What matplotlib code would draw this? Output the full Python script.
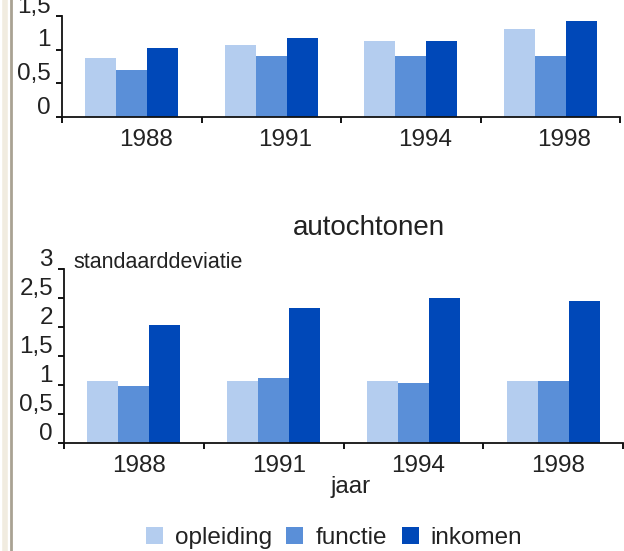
import matplotlib
matplotlib.use("Agg")
import matplotlib.pyplot as plt
import matplotlib.transforms as mtransforms
from matplotlib.lines import Line2D
from matplotlib.patches import Patch
import numpy as np

plt.rcParams['font.family'] = ['Liberation Sans', 'DejaVu Sans']

jaren = ['1988', '1991', '1994', '1998']
reeksen = ['opleiding', 'functie', 'inkomen']
kleuren = ['#b4cdef', '#5a8fd8', '#0048b8']

# bovenste paneel (bovenkant valt buiten beeld)
boven_opleiding = [0.88, 1.07, 1.13, 1.30]
boven_functie = [0.70, 0.90, 0.91, 0.90]
boven_inkomen = [1.03, 1.18, 1.13, 1.43]
boven_yticks = [0, 0.5, 1, 1.5]
boven_ylabels = ['0', '0,5', '1', '1,5']

# autochtonen
auto_opleiding = [1.07, 1.07, 1.07, 1.07]
auto_functie = [0.98, 1.12, 1.03, 1.07]
auto_inkomen = [2.03, 2.33, 2.50, 2.45]
auto_yticks = [0, 0.5, 1, 1.5, 2, 2.5, 3]
auto_ylabels = ['0', '0,5', '1', '1,5', '2', '2,5', '3']

W, H = 624, 551
fig = plt.figure(figsize=(W / 100, H / 100), dpi=100)
tekst = '#222222'
fs = 17.5


def px_axes(left, top, right, bottom):
    return fig.add_axes([left / W, 1 - bottom / H, (right - left) / W, (bottom - top) / H])


def teken(ax, series, yticks, ylabels, ymax, xshift):
    x = np.arange(len(jaren))
    w = 0.222
    for i, (vals, kleur) in enumerate(zip(series, kleuren)):
        ax.bar(x + (i - 1) * w, vals, w, color=kleur, linewidth=0)
    ax.set_xlim(-0.5, len(jaren) - 0.5)
    ax.set_ylim(0, ymax)
    for s in ['top', 'right']:
        ax.spines[s].set_visible(False)
    for s in ['left', 'bottom']:
        ax.spines[s].set_linewidth(1.3)
        ax.spines[s].set_color('#111111')
    ax.set_yticks(yticks)
    ax.set_yticklabels(ylabels)
    ax.set_xticks(x)
    ax.set_xticklabels(jaren)
    ax.set_xticks(np.arange(-0.5, len(jaren)), minor=True)
    ax.tick_params(axis='x', which='major', length=0, pad=9, labelsize=fs, labelcolor=tekst)
    ax.tick_params(axis='x', which='minor', length=4, width=1.3, direction='out')
    ax.tick_params(axis='y', length=4, width=1.3, direction='out', pad=4, labelsize=fs, labelcolor=tekst)
    up = mtransforms.ScaledTranslation(0, 12 / 100, fig.dpi_scale_trans)
    for lab in ax.get_yticklabels():
        lab.set_transform(lab.get_transform() + up)
    right = mtransforms.ScaledTranslation(xshift / 100, 0, fig.dpi_scale_trans)
    for lab in ax.get_xticklabels():
        lab.set_transform(lab.get_transform() + right)


ax1 = px_axes(62, 16, 620, 117)
teken(ax1, [boven_opleiding, boven_functie, boven_inkomen], boven_yticks, boven_ylabels, 1.5, 14)

ax2 = px_axes(64, 269, 623, 443)
teken(ax2, [auto_opleiding, auto_functie, auto_inkomen], auto_yticks, auto_ylabels, 3, 5)

fig.text(369 / W, 1 - 228 / H, 'autochtonen', ha='center', va='center', fontsize=20, color=tekst)
fig.text(73 / W, 1 - 262 / H, 'standaarddeviatie', ha='left', va='center', fontsize=15.5, color=tekst)
fig.text(351 / W, 1 - 487 / H, 'jaar', ha='center', va='center', fontsize=fs, color=tekst)

handles = [Patch(facecolor=k, edgecolor='none', label=r) for k, r in zip(kleuren, reeksen)]
fig.legend(handles=handles, loc='center', bbox_to_anchor=(334 / W, 1 - 538 / H), ncol=3,
           frameon=False, fontsize=fs, handlelength=0.7, handleheight=0.7,
           handletextpad=0.5, columnspacing=0.6, labelcolor=tekst)

# dubbele rand links
fig.add_artist(Line2D([4.5 / W, 4.5 / W], [0, 1], transform=fig.transFigure, color='#f1ece0', linewidth=4))
fig.add_artist(Line2D([10.5 / W, 10.5 / W], [0, 1], transform=fig.transFigure, color='#a9a293', linewidth=2))

fig.savefig('out.png', dpi=100)
